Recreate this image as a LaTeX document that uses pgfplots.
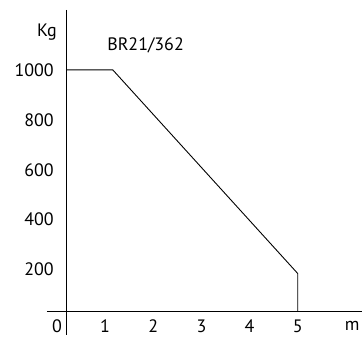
\documentclass[border=0pt]{standalone}
\usepackage{pgfplots}
\pgfplotsset{compat=1.18}
\usepackage{fontspec}
\setmainfont{PT Sans}
\begin{document}
\begin{tikzpicture}
\begin{axis}[
  scale only axis, width=363pt, height=336pt,
  xmin=-1.181, xmax=6.342, ymin=-64, ymax=1280,
  axis lines=middle,
  axis line style={draw=none},
  hide obscured x ticks=false,
  xtick={0,1,2,3,4,5}, ytick={200,400,600,800,1000},
  major tick length=0pt,
  tick style={draw=none},
  /pgf/number format/assume math mode=true,
  /pgf/number format/1000 sep={},
  ticklabel style={font=\fontsize{18}{20}\selectfont},
  xticklabel style={anchor=north, inner sep=0pt, yshift=0pt},
  yticklabel style={anchor=east, inner sep=0pt, xshift=-3pt},
  clip=false,
]
\draw[line width=1.1pt] (axis cs:-0.207,32) -- (axis cs:6.342,32);
\draw[line width=1.1pt] (axis cs:0.207,1240) -- (axis cs:0.207,-64);
\addplot[black, line width=0.9pt] coordinates {(0.207,1000) (1.16,1000) (5,184) (5,32)};
\node[font=\fontsize{18}{20}\selectfont] at (axis cs:-0.207,1150) {Kg};
\node[font=\fontsize{18}{20}\selectfont] at (axis cs:1.84,1098) {BR21/362};
\node[font=\fontsize{18}{20}\selectfont] at (axis cs:6.13,-26) {m};
\end{axis}
\end{tikzpicture}
\end{document}
